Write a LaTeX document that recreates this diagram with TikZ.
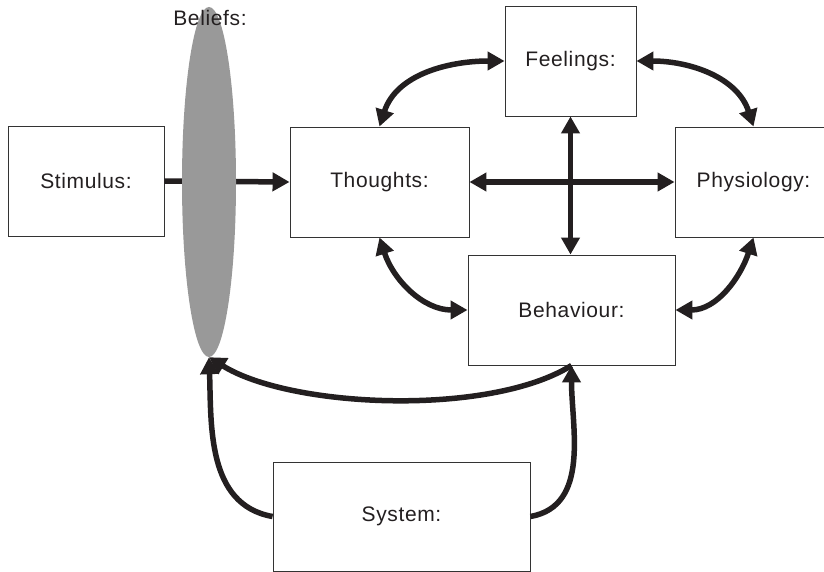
\documentclass[tikz,border=0pt]{standalone}
\usepackage{fontspec}
\setmainfont{Liberation Sans}[LetterSpace=3]
\usetikzlibrary{arrows.meta,shapes.geometric}
\definecolor{ink}{HTML}{231F20}
\definecolor{boxline}{HTML}{333333}
\definecolor{beliefgray}{HTML}{999999}
\begin{document}
\begin{tikzpicture}[x=1pt,y=1pt,
  box/.style={draw=boxline,line width=0.9pt,fill=white,inner sep=0pt,text=ink,
    font=\fontsize{21}{24}\selectfont},
  conn/.style={draw=ink,line width=5.5pt},
  tip/.style={-{Triangle[length=17pt 0 0,width=18pt 0 0]}},
  twotip/.style={{Triangle[length=17pt 0 0,width=18pt 0 0]}-{Triangle[length=17pt 0 0,width=18pt 0 0]}},
  lbl/.style={text=ink,font=\fontsize{21}{24}\selectfont,inner sep=0pt}]
\useasboundingbox (0,0) rectangle (824,-572);
% boxes
\node[box,minimum width=156,minimum height=110] (stim) at (86,-181) {Stimulus:};
\node[box,minimum width=179,minimum height=110] (thou) at (379.5,-182) {Thoughts:};
\node[box,minimum width=131,minimum height=110] (feel) at (570.5,-61) {Feelings:};
\node[box,minimum width=157,minimum height=110] (phys) at (753.5,-182) {Physiology:};
\node[box,minimum width=207,minimum height=110] (beha) at (571.5,-310) {Behaviour:};
\node[box,minimum width=257,minimum height=109] (syst) at (401.5,-516.5) {System:};
% stimulus to thoughts
\draw[conn,tip] (stim.east) -- (thou.west);
% beliefs ellipse
\node[ellipse,fill=beliefgray,minimum width=54,minimum height=350,inner sep=0pt] (beli) at (209,-182) {};
\node[lbl] (belilbl) at (210,-18) {Beliefs:};
% central cross
\draw[conn,twotip] (thou.east) -- (phys.west);
\draw[conn,twotip] (feel.south) -- (feel.south |- beha.north);
% ring arrows
\draw[conn,twotip] (thou.north) to[out=72,in=180] (feel.west);
\draw[conn,twotip] (feel.east) to[out=0,in=108] (phys.north);
\draw[conn,twotip] (thou.south) to[out=-72,in=180] (beha.west);
\draw[conn,twotip] (phys.south) to[out=-108,in=0] (beha.east);
% feedback arrows
\coordinate (bbot) at (beli.south);
\draw[conn,tip] (beha.south) to[out=-148,in=-32,looseness=0.68] (bbot);
\draw[conn,tip] (syst.west) to[out=170,in=-88] (bbot);
\draw[conn,tip] (syst.east) to[out=10,in=-90] (beha.south);
\end{tikzpicture}
\end{document}
